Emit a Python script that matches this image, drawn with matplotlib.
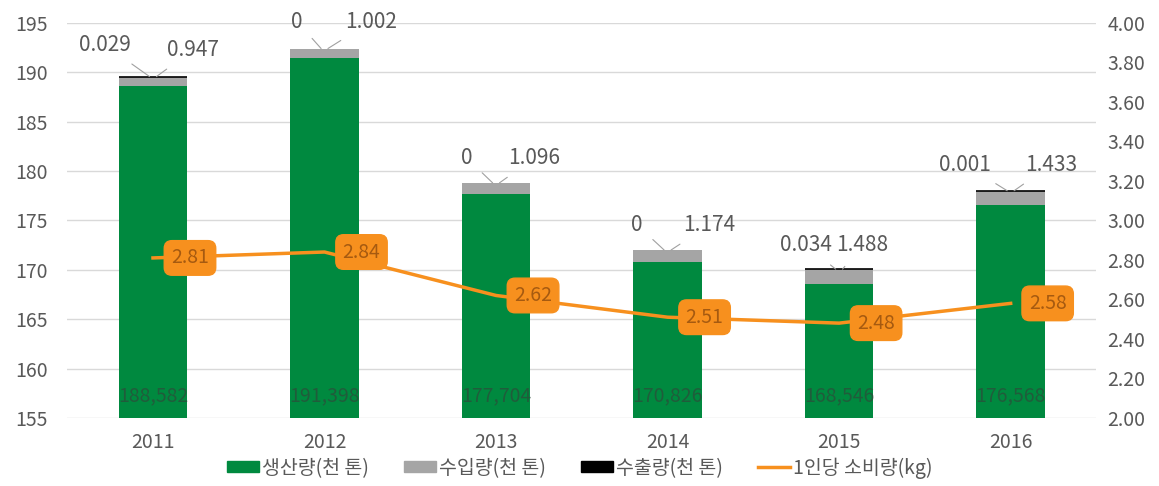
import matplotlib
matplotlib.use("Agg")
import matplotlib.pyplot as plt
from matplotlib.patches import Patch
from matplotlib.lines import Line2D

plt.rcParams['font.family'] = ['Noto Sans CJK KR', 'DejaVu Sans']

years = ['2011', '2012', '2013', '2014', '2015', '2016']
production = [188.582, 191.398, 177.704, 170.826, 168.546, 176.568]
imports = [0.947, 1.002, 1.096, 1.174, 1.488, 1.433]
exports = [0.029, 0, 0, 0, 0.034, 0.001]
per_capita = [2.81, 2.84, 2.62, 2.51, 2.48, 2.58]

export_labels = ['0.029', '0', '0', '0', '0.034', '0.001']
import_labels = ['0.947', '1.002', '1.096', '1.174', '1.488', '1.433']
prod_labels = ['188,582', '191,398', '177,704', '170,826', '168,546', '176,568']

# label offsets in pixels from the top of each stack
exp_off = [(-45, 32), (-24, 27), (-26, 25), (-27, 25), (-30, 24), (-42, 26)]
imp_off = [(37, 27), (43, 27), (35, 25), (38, 25), (20, 24), (37, 26)]

green = '#00893F'
grey = '#A5A5A5'
orange = '#F7901E'
txt = '#595959'

fig = plt.figure(figsize=(11.59, 4.86), dpi=100)
ax = fig.add_axes([0.058, 0.14, 0.888, 0.813])
x = range(len(years))
w = 0.4

ax.bar(x, production, w, color=green, zorder=2)
bottom2 = [p + i for p, i in zip(production, imports)]
ax.bar(x, imports, w, bottom=production, color=grey, zorder=2)
ax.bar(x, exports, w, bottom=bottom2, color='black', edgecolor='black',
       linewidth=[1.2 if e > 0 else 0 for e in exports], zorder=2)

ax.set_ylim(155, 195)
ax.set_xlim(-0.5, len(years) - 0.5)
ax.set_yticks(range(155, 196, 5))
ax.yaxis.grid(True, color='#D9D9D9', linewidth=1, zorder=0)
ax.set_axisbelow(True)
for s in ax.spines.values():
    s.set_visible(False)
ax.tick_params(axis='both', length=0, labelsize=14, labelcolor=txt, pad=10)
ax.tick_params(axis='y', pad=14)
ax.set_xticks(list(x))
ax.set_xticklabels(years)

for i in x:
    top = bottom2[i] + exports[i]
    ax.text(i, 157.2, prod_labels[i], ha='center', va='center', fontsize=14,
            color='#2E4A3A', alpha=0.7, zorder=3)
    ax.annotate(export_labels[i], xy=(i - 0.02, top), xytext=exp_off[i],
                textcoords='offset pixels', ha='center', va='center',
                fontsize=15, color=txt,
                arrowprops=dict(arrowstyle='-', color='#A0A0A0', lw=0.8,
                                shrinkA=7, shrinkB=0))
    ax.annotate(import_labels[i], xy=(i + 0.02, top), xytext=imp_off[i],
                textcoords='offset pixels', ha='center', va='center',
                fontsize=15, color=txt,
                arrowprops=dict(arrowstyle='-', color='#A0A0A0', lw=0.8,
                                shrinkA=7, shrinkB=0))

ax2 = ax.twinx()
ax2.set_ylim(2.0, 4.0)
ax2.set_yticks([2.0 + 0.2 * k for k in range(11)])
ax2.set_yticklabels([f'{2.0 + 0.2 * k:.2f}' for k in range(11)])
for s in ax2.spines.values():
    s.set_visible(False)
ax2.tick_params(axis='y', length=0, labelsize=14, labelcolor=txt, pad=8)
ax2.plot(list(x), per_capita, color=orange, linewidth=2.5, zorder=4)
for i, v in enumerate(per_capita):
    ax2.annotate(f'{v:.2f}', xy=(i, v), xytext=(37, 0), textcoords='offset pixels',
                 ha='center', va='center', fontsize=14, color='#A65A10',
                 bbox=dict(boxstyle='round,pad=0.35,rounding_size=0.4',
                           fc=orange, ec=orange), zorder=5)

handles = [Patch(color=green), Patch(color=grey), Patch(color='black'),
           Line2D([], [], color=orange, linewidth=2.5)]
names = ['생산량(천 톤)', '수입량(천 톤)', '수출량(천 톤)', '1인당 소비량(kg)']
fig.legend(handles, names, loc='center', bbox_to_anchor=(0.5, 0.037), ncol=4,
           frameon=False, fontsize=14, labelcolor=txt, handlelength=1.65,
           handleheight=0.5, handletextpad=0.15, columnspacing=1.8)

fig.savefig('out.png', dpi=100)
